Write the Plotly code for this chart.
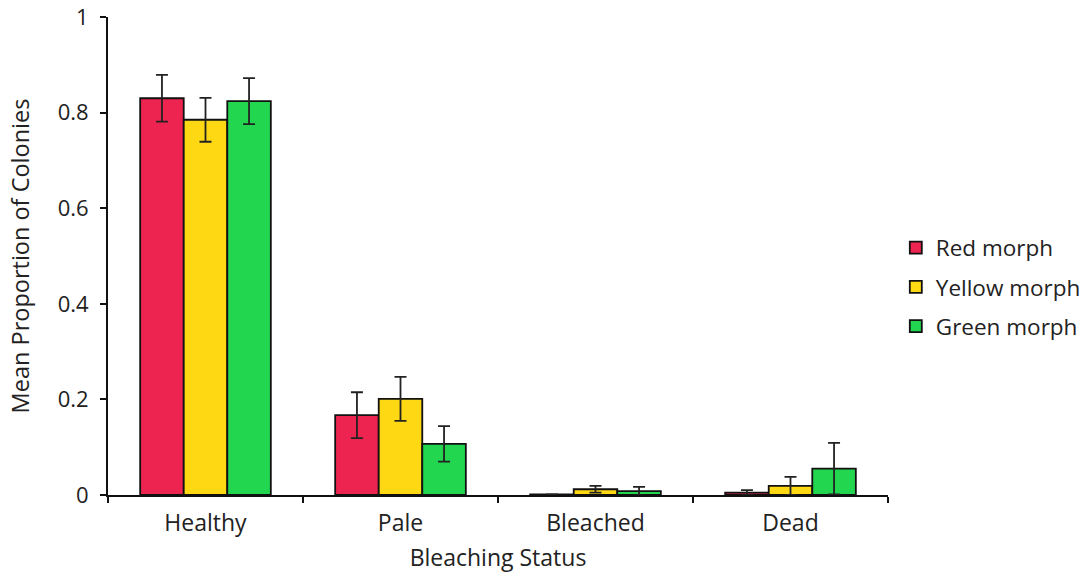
import plotly.graph_objects as go

categories = ["Healthy", "Pale", "Bleached", "Dead"]
series_names = ["Red morph", "Yellow morph", "Green morph"]
red_vals = [0.830, 0.167, 0.001, 0.005]
red_err = [0.049, 0.048, 0.0, 0.005]
yellow_vals = [0.785, 0.201, 0.012, 0.019]
yellow_err = [0.046, 0.046, 0.007, 0.019]
green_vals = [0.824, 0.107, 0.008, 0.055]
green_err = [0.048, 0.037, 0.009, 0.054]
y_ticks = [0, 0.2, 0.4, 0.6, 0.8, 1]
y_tick_labels = ["0", "0.2", "0.4", "0.6", "0.8", "1"]

colors = ["#EE2450", "#FFD814", "#22D650"]
values = [red_vals, yellow_vals, green_vals]
errors = [red_err, yellow_err, green_err]

font_family = "Open Sans, Lato, sans-serif"

fig = go.Figure()
for i, (name, vals, errs, col) in enumerate(zip(series_names, values, errors, colors)):
    fig.add_trace(go.Bar(
        x=categories, y=vals, name=name, legendgroup=f"g{i}",
        marker=dict(color=col, line=dict(color="#111111", width=1.8)),
        error_y=dict(type="data", array=errs, visible=True, color="#222222",
                     thickness=1.8, width=6),
    ))

fig.update_layout(
    width=1086, height=573,
    barmode="group", bargap=0.33, bargroupgap=0,
    plot_bgcolor="white", paper_bgcolor="white",
    margin=dict(l=108, r=198, t=17, b=78, autoexpand=False),
    font=dict(family=font_family, size=22, color="#222222"),
    legend=dict(x=1.01, y=0.435, yanchor="middle", xanchor="left",
                font=dict(size=22.5), itemwidth=30, traceorder="grouped",
                tracegroupgap=7),
    showlegend=True,
)
fig.update_xaxes(
    showline=True, linecolor="#111111", linewidth=1.8, automargin=False,
    ticks="outside", tickson="boundaries", ticklen=6, tickcolor="#111111",
    tickwidth=1.8, tickfont=dict(size=23), ticklabelstandoff=6,
    title=dict(text="Bleaching Status", standoff=18, font=dict(size=23)),
)
fig.update_yaxes(
    range=[0, 1], showline=True, linecolor="#111111", linewidth=1.8,
    automargin=False,
    ticks="outside", ticklen=6, tickcolor="#111111", tickwidth=1.8,
    tickvals=y_ticks, ticktext=y_tick_labels, showgrid=False, zeroline=False,
    tickfont=dict(size=22), ticklabelstandoff=7,
    title=dict(text="Mean Proportion of Colonies", standoff=22, font=dict(size=23.5)),
)

fig.write_html("out.html")
